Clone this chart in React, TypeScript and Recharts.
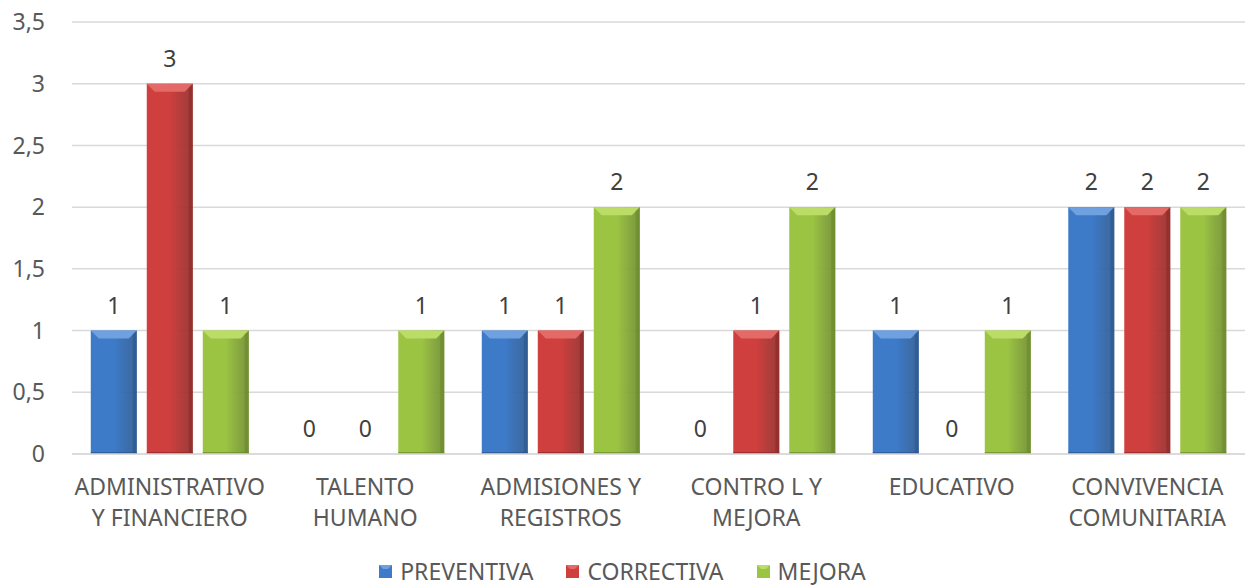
import { Bar, BarChart, CartesianGrid, LabelList, Legend, XAxis, YAxis } from "recharts";

const categories = [
  "ADMINISTRATIVO\nY FINANCIERO",
  "TALENTO\nHUMANO",
  "ADMISIONES Y\nREGISTROS",
  "CONTRO L Y\nMEJORA",
  "EDUCATIVO",
  "CONVIVENCIA\nCOMUNITARIA",
];
const preventiva = [1, 0, 1, 0, 1, 2];
const correctiva = [3, 0, 1, 1, 0, 2];
const mejora = [1, 1, 2, 2, 1, 2];
const yTicks = [0, 0.5, 1, 1.5, 2, 2.5, 3, 3.5];

const data = categories.map((name, i) => ({
  name,
  preventiva: preventiva[i],
  correctiva: correctiva[i],
  mejora: mejora[i],
}));

const FONT = "'Noto Sans', 'Open Sans', sans-serif";
const TEXT = "#595959";
const SIZE = 23;

const colors: Record<string, { base: string; light: string; dark: string }> = {
  preventiva: { base: "#3d7bc9", light: "#6fa0e0", dark: "#28568f" },
  correctiva: { base: "#cf3f3d", light: "#e36a67", dark: "#8f2826" },
  mejora: { base: "#9cc443", light: "#bcdc68", dark: "#6b8a2a" },
};

function bevelShape(key: string) {
  return (props: any) => {
    const { x, y, width: w, height: h } = props;
    if (!h || h <= 0) return <g />;
    const c = colors[key];
    const b = Math.min(8, w / 4, h / 2);
    return (
      <g>
        <rect x={x} y={y} width={w} height={h} fill={`url(#grad-${key})`} />
        <polygon
          points={`${x},${y} ${x + w},${y} ${x + w - b},${y + b} ${x + b},${y + b}`}
          fill={c.light}
        />
        <polygon
          points={`${x + w},${y} ${x + w},${y + h} ${x + w - b / 2},${y + h} ${x + w - b / 2},${y + b / 2}`}
          fill={c.dark}
          opacity={0.6}
        />
        <rect x={x} y={y + h - 2} width={w} height={2} fill={c.dark} opacity={0.7} />
      </g>
    );
  };
}

function XTick(props: any) {
  const { x, y, payload } = props;
  const lines = String(payload.value).split("\n");
  return (
    <text x={x} y={y} textAnchor="middle" fill={TEXT} fontFamily={FONT} fontSize={SIZE}>
      {lines.map((l, i) => (
        <tspan key={i} x={x} dy={i === 0 ? 33 : 31}>
          {l}
        </tspan>
      ))}
    </text>
  );
}

const legendItems = [
  { key: "preventiva", label: "PREVENTIVA" },
  { key: "correctiva", label: "CORRECTIVA" },
  { key: "mejora", label: "MEJORA" },
];

function LegendContent() {
  return (
    <div
      style={{
        display: "flex",
        justifyContent: "center",
        gap: 33,
        fontFamily: FONT,
        fontSize: SIZE,
        color: TEXT,
        height: 30,
        lineHeight: "30px",
      }}
    >
      {legendItems.map((it) => (
        <div key={it.key} style={{ display: "flex", alignItems: "center" }}>
          <svg width={13} height={13} style={{ marginRight: 8 }}>
            <rect x={0} y={0} width={13} height={13} fill={colors[it.key].base} />
            <polygon points="0,0 13,0 9,4 4,4" fill={colors[it.key].light} />
          </svg>
          <span>{it.label}</span>
        </div>
      ))}
    </div>
  );
}

export default function App() {
  return (
    <div
      style={{
        position: "absolute",
        left: 0,
        top: 0,
        background: "#fff",
        width: 1245,
        height: 587,
        overflow: "hidden",
      }}
    >
      <BarChart
        width={1245}
        height={587}
        data={data}
        margin={{ top: 22, right: 0, left: 0, bottom: 0 }}
        barCategoryGap="9.6%"
        barGap={10}
      >
        <defs>
          {Object.keys(colors).map((k) => (
            <linearGradient key={k} id={`grad-${k}`} x1="0" y1="0" x2="1" y2="0">
              <stop offset="0%" stopColor={colors[k].base} />
              <stop offset="50%" stopColor={colors[k].base} />
              <stop offset="100%" stopColor={colors[k].dark} stopOpacity={0.9} />
            </linearGradient>
          ))}
        </defs>
        <CartesianGrid vertical={false} stroke="#d9d9d9" strokeWidth={1.5} />
        <XAxis
          dataKey="name"
          interval={0}
          tick={<XTick />}
          tickLine={false}
          axisLine={{ stroke: "#d9d9d9", strokeWidth: 1.5 }}
          height={103}
        />
        <YAxis
          domain={[0, 3.5]}
          ticks={yTicks}
          width={72}
          axisLine={false}
          tickLine={false}
          tickSize={0}
          tickMargin={27}
          tickFormatter={(v: number) => String(v).replace(".", ",")}
          tick={{ fill: TEXT, fontFamily: FONT, fontSize: SIZE }}
        />
        <Legend
          verticalAlign="bottom"
          content={<LegendContent />}
          wrapperStyle={{ top: 556, bottom: "auto", left: 0, width: 1245 }}
        />
        {legendItems.map((it) => (
          <Bar
            key={it.key}
            dataKey={it.key}
            name={it.label}
            fill={colors[it.key].base}
            shape={bevelShape(it.key)}
            isAnimationActive={false}
          >
            <LabelList
              dataKey={it.key}
              position="top"
              offset={17}
              fill="#404040"
              fontFamily={FONT}
              fontSize={SIZE}
            />
          </Bar>
        ))}
      </BarChart>
    </div>
  );
}
